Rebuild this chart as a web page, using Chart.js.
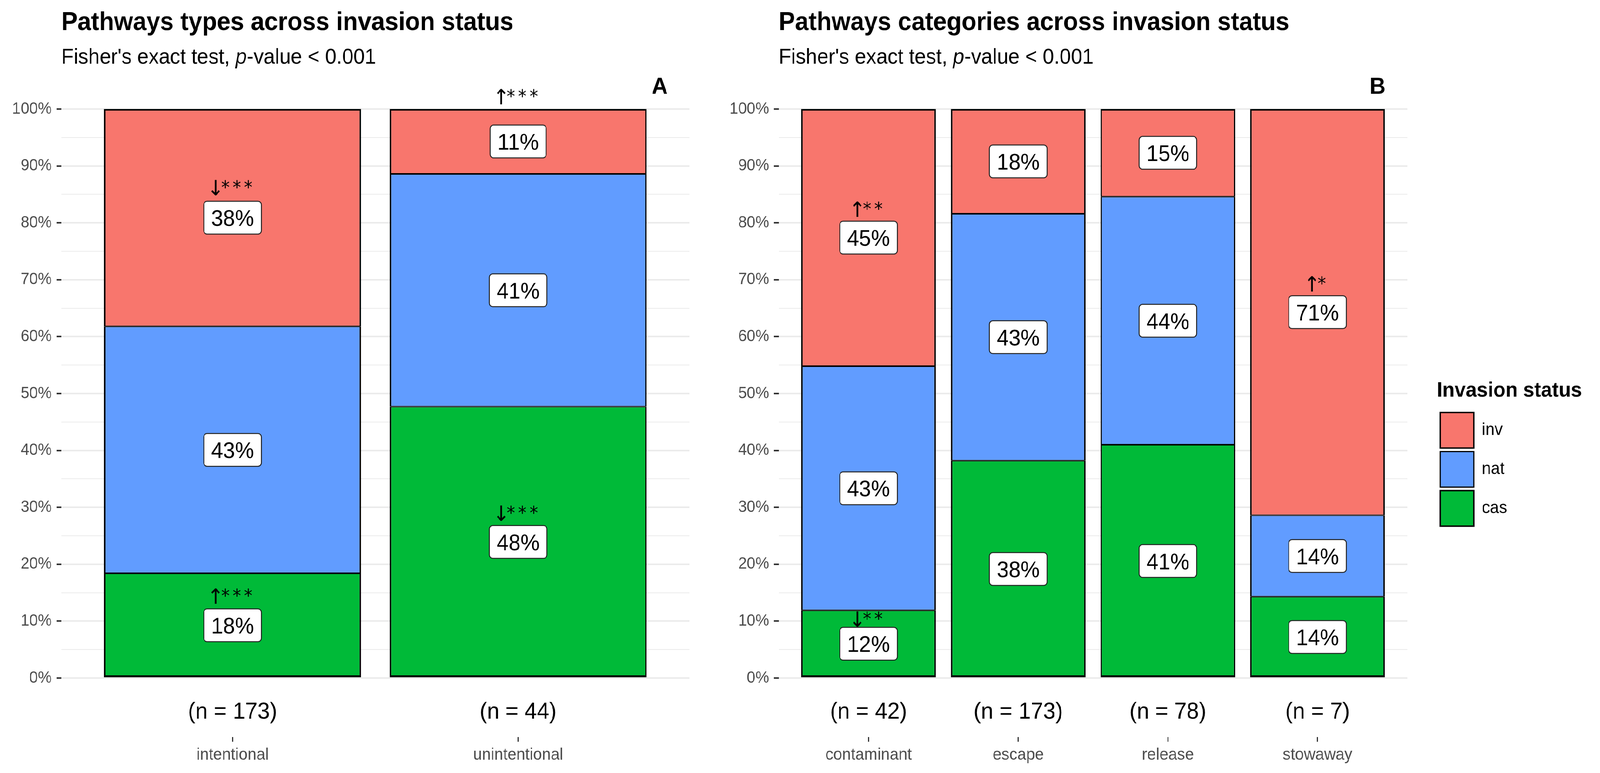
<!DOCTYPE html>
<html>
<head>
<meta charset="utf-8">
<script src="https://cdn.jsdelivr.net/npm/chart.js@4.4.1/dist/chart.umd.min.js"></script>
<style>
  html, body { margin: 0; padding: 0; background: #fff; overflow: hidden; }
  #page { position: absolute; left: 0; top: 0; width: 4335px; height: 1978px; transform-origin: 0 0; }
  canvas { position: absolute; top: 0; }
  #chartA { left: 0; }
  #chartB { left: 1960px; }
</style>
</head>
<body>
<div id="page">
<canvas id="chartA" width="1960" height="1978"></canvas>
<canvas id="chartB" width="2375" height="1978"></canvas>
</div>
<script>
// invasion status, stacked from the bottom of each bar
const statusNames = ['cas', 'nat', 'inv']
const statusColors = ['#00BA38', '#619CFF', '#F8766D']

// panel A: pathway types (percent of species)
const typeNames = ['intentional', 'unintentional']
const typeN = ['(n = 173)', '(n = 44)']
const typeCas = [18.4, 47.7]
const typeNat = [43.4, 40.9]
const typeInv = [38.2, 11.4]
// significance marks: bar index, height in %, text
const typeMarks = [[0, 86.2, '↓***'], [1, 102.2, '↑***'], [0, 14.4, '↑***'], [1, 29.0, '↓***']]

// panel B: pathway categories (percent of species)
const catNames = ['contaminant', 'escape', 'release', 'stowaway']
const catN = ['(n = 42)', '(n = 173)', '(n = 78)', '(n = 7)']
const catCas = [11.9, 38.2, 41.0, 14.3]
const catNat = [42.9, 43.4, 43.6, 14.3]
const catInv = [45.2, 18.4, 15.4, 71.4]
const catMarks = [[0, 82.4, '↑**'], [0, 10.4, '↓**'], [3, 69.3, '↑*']]

const yTickValues = [0, 5, 10, 15, 20, 25, 30, 35, 40, 45, 50, 55, 60, 65, 70, 75, 80, 85, 90, 95, 100]

// the window may be narrower than the figure: squeeze it sideways to fit
const sx = Math.min(1, window.innerWidth / 4335)
document.getElementById('page').style.transform = 'scaleX(' + sx + ')'

const fontMain = '"Liberation Sans", Arial, sans-serif'
Chart.defaults.font.family = fontMain

function boxPath(ctx, x, y, w, h, r) {
  ctx.beginPath()
  ctx.moveTo(x + r, y)
  ctx.arcTo(x + w, y, x + w, y + h, r)
  ctx.arcTo(x + w, y + h, x, y + h, r)
  ctx.arcTo(x, y + h, x, y, r)
  ctx.arcTo(x, y, x + w, y, r)
  ctx.closePath()
}

// titles, panel tag, percent labels and significance marks
function overlay(panel) {
  return {
    id: 'overlay' + panel.tag,
    beforeUpdate(chart) {
      // legend is clipped to its box, so make it wide enough for its title
      const lg = chart.legend
      if (panel.legendWidth && lg && !lg._wide) {
        const fit = lg.fit
        lg.fit = function () { fit.call(this); this.width = panel.legendWidth }
        lg._wide = true
      }
    },
    afterDatasetsDraw(chart) {
      const ctx = chart.ctx
      ctx.save()
      ctx.font = '58px ' + fontMain
      ctx.textAlign = 'center'
      ctx.textBaseline = 'alphabetic'
      chart.data.datasets.forEach((ds, i) => {
        chart.getDatasetMeta(i).data.forEach((bar, j) => {
          const txt = Math.round(ds.data[j].y) + '%'
          const cy = (bar.y + bar.base) / 2
          const w = ctx.measureText(txt).width + 40
          const h = 84
          boxPath(ctx, bar.x - w / 2, cy - h / 2, w, h, 9)
          ctx.fillStyle = '#fff'
          ctx.fill()
          ctx.lineWidth = 2.5
          ctx.strokeStyle = '#222'
          ctx.stroke()
          ctx.fillStyle = '#000'
          ctx.fillText(txt, bar.x, cy + 21)
        })
      })
      // arrow and stars, centred together over the bar
      const xs = chart.scales.x
      const ys = chart.scales.y
      panel.marks.forEach(([i, v, txt]) => {
        const stars = txt.slice(1)
        const ax = xs.getPixelForValue(i) - (31 * stars.length - 1) / 2
        const y = ys.getPixelForValue(v)
        ctx.textAlign = 'center'
        ctx.font = '54px "DejaVu Sans", sans-serif'
        if ('letterSpacing' in ctx) ctx.letterSpacing = '0px'
        ctx.fillText(txt[0], ax, y + 20)
        ctx.textAlign = 'left'
        ctx.font = '46px "DejaVu Sans", sans-serif'
        if ('letterSpacing' in ctx) ctx.letterSpacing = '8px'
        ctx.fillText(stars, ax + 15, y + 15)
      })
      ctx.restore()
    },
    afterDraw(chart) {
      const ctx = chart.ctx
      const a = chart.chartArea
      ctx.save()
      ctx.fillStyle = '#000'
      ctx.textBaseline = 'alphabetic'
      ctx.textAlign = 'left'
      ctx.font = 'bold 66px ' + fontMain
      ctx.fillText(panel.title, a.left, 77)
      let x = a.left
      const parts = [["Fisher's exact test, ", ''], ['p', 'italic '], ['-value < 0.001', '']]
      parts.forEach(([t, st]) => {
        ctx.font = st + '55px ' + fontMain
        ctx.fillText(t, x, 163)
        x += ctx.measureText(t).width
      })
      ctx.font = 'bold 60px ' + fontMain
      ctx.textAlign = 'right'
      ctx.fillText(panel.tag, a.right - 59, 240)
      ctx.restore()
    }
  }
}

function makeDatasets(cas, nat, inv) {
  return [cas, nat, inv].map((vals, d) => ({
    label: statusNames[d],
    data: vals.map((v, i) => ({ x: i, y: v })),
    backgroundColor: statusColors[d],
    borderColor: '#000',
    borderWidth: c => c.dataIndex === undefined ? 4 :
      { left: 4, right: 4, top: d === 2 ? 4 : 2, bottom: d === 0 ? 5 : 2 },
    borderSkipped: false,
    categoryPercentage: 1,
    barPercentage: 0.9
  }))
}

function makeScales(names, nLabels, yWidth) {
  const xBase = {
    type: 'linear', min: -0.6, max: names.length - 0.4, offset: false, bounds: 'data',
    afterBuildTicks: s => { s.ticks = names.map((c, i) => ({ value: i })) }
  }
  return {
    x: Object.assign({}, xBase, {
      stacked: true, position: 'bottom', weight: 1,
      grid: { display: false, offset: false }, border: { display: false },
      ticks: { callback: (v, i) => nLabels[i], color: '#000', font: { size: 60 }, padding: 43, maxRotation: 0, autoSkip: false },
      afterFit: s => { s.height = 151 }
    }),
    x2: Object.assign({}, xBase, {
      position: 'bottom', weight: 2,
      grid: { display: true, offset: false, drawOnChartArea: false, drawTicks: true, tickLength: 12, tickColor: '#333', tickWidth: 3 },
      border: { display: false },
      ticks: { callback: (v, i) => names[i], color: '#4d4d4d', font: { size: 43 }, padding: 8, maxRotation: 0, autoSkip: false },
      afterFit: s => { s.height = 80 }
    }),
    y: {
      stacked: true, min: 0, max: 100, position: 'left',
      afterBuildTicks: s => { s.ticks = yTickValues.map(v => ({ value: v })) },
      ticks: { callback: v => v % 10 === 0 ? v + '%' : '', color: '#4d4d4d', font: { size: 42 }, padding: 13, autoSkip: false },
      grid: {
        color: '#ebebeb',
        lineWidth: c => c.tick && c.tick.value % 10 === 0 ? 4 : 2,
        tickLength: 13, tickWidth: 4,
        tickColor: c => c.tick && c.tick.value % 10 === 0 ? '#333' : 'rgba(0,0,0,0)'
      },
      border: { display: false },
      afterFit: s => { s.width = yWidth }
    }
  }
}

const common = {
  responsive: false,
  devicePixelRatio: 1,
  animation: false,
  events: []
}

new Chart(document.getElementById('chartA'), {
  type: 'bar',
  data: { datasets: makeDatasets(typeCas, typeNat, typeInv) },
  options: Object.assign({}, common, {
    layout: { padding: { left: 0, right: 92, top: 279, bottom: 12 } },
    scales: makeScales(typeNames, typeN, 166),
    plugins: { legend: { display: false }, tooltip: { enabled: false } }
  }),
  plugins: [overlay({ title: 'Pathways types across invasion status', tag: 'A', marks: typeMarks })]
})

const scalesB = makeScales(catNames, catN, 150)
// empty right axis only keeps a gap between the panel and the legend
scalesB.yGap = {
  type: 'linear', position: 'right', display: true, weight: 0,
  grid: { display: false }, ticks: { display: false }, border: { display: false },
  afterFit: s => { s.width = 80 }
}

new Chart(document.getElementById('chartB'), {
  type: 'bar',
  data: { datasets: makeDatasets(catCas, catNat, catInv) },
  options: Object.assign({}, common, {
    layout: { padding: { left: 0, right: 12, top: 279, bottom: 12 } },
    scales: scalesB,
    plugins: {
      tooltip: { enabled: false },
      legend: {
        display: true, position: 'right', reverse: true,
        title: { display: true, text: 'Invasion status', color: '#000', font: { size: 54, weight: 'bold' }, padding: { top: 84, bottom: 8 }, position: 'start' },
        labels: { boxWidth: 91, boxHeight: 91, padding: 9, color: '#000', font: { size: 44 } }
      }
    }
  }),
  plugins: [overlay({ title: 'Pathways categories across invasion status', tag: 'B', marks: catMarks, legendWidth: 430 })]
})
</script>
</body>
</html>
